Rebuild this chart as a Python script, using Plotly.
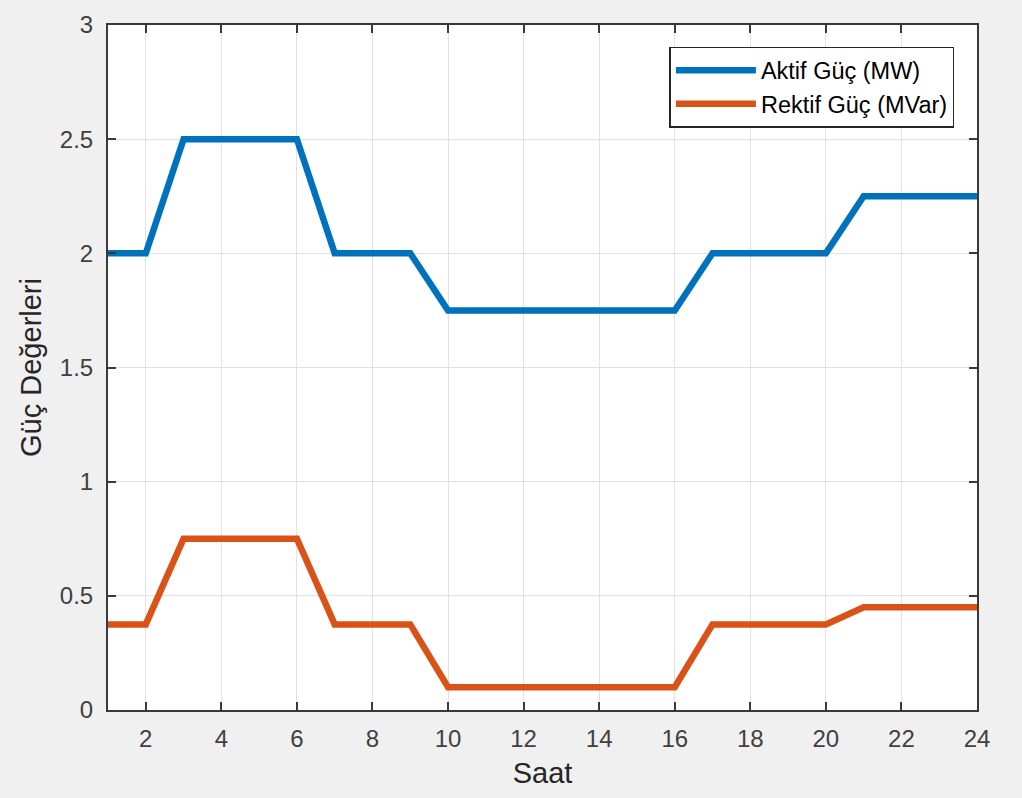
import plotly.graph_objects as go

# Hourly power profile
saat = list(range(1, 25))
aktif_guc = [2, 2, 2.5, 2.5, 2.5, 2.5, 2, 2, 2, 1.75, 1.75, 1.75,
             1.75, 1.75, 1.75, 1.75, 2, 2, 2, 2, 2.25, 2.25, 2.25, 2.25]
rektif_guc = [0.375, 0.375, 0.75, 0.75, 0.75, 0.75, 0.375, 0.375, 0.375, 0.1, 0.1, 0.1,
              0.1, 0.1, 0.1, 0.1, 0.375, 0.375, 0.375, 0.375, 0.45, 0.45, 0.45, 0.45]
x_ticks = list(range(2, 25, 2))
y_ticks = [0, 0.5, 1, 1.5, 2, 2.5, 3]
y_tick_text = ["0", "0.5", "1", "1.5", "2", "2.5", "3"]

FONT = "Liberation Sans, Arial, Helvetica, sans-serif"

fig = go.Figure()
fig.add_trace(go.Scatter(x=saat, y=aktif_guc, mode="lines", name="Aktif Güç (MW)",
                         line=dict(color="#0072BD", width=6.5)))
fig.add_trace(go.Scatter(x=saat, y=rektif_guc, mode="lines", name="Rektif Güç (MVar)",
                         line=dict(color="#D95319", width=6.5)))

axis_common = dict(
    showline=True, linecolor="#3a3a3a", linewidth=2, mirror="ticks",
    ticks="inside", ticklen=8, tickcolor="#3a3a3a", tickwidth=2,
    showgrid=True, gridcolor="#e2e2e2", gridwidth=1.2, zeroline=False,
    tickfont=dict(family=FONT, size=24, color="#404040"),
)

fig.update_layout(
    width=1022, height=798,
    margin=dict(l=108, r=45, t=25, b=88),
    paper_bgcolor="#f0f0f0", plot_bgcolor="#ffffff",
    font=dict(family=FONT, color="#262626"),
    xaxis=dict(range=[1, 24], tickvals=x_ticks, ticklabelstandoff=6,
               title=dict(text="Saat", font=dict(size=29, color="#262626"), standoff=12),
               **axis_common),
    yaxis=dict(range=[0, 3], tickvals=y_ticks, ticktext=y_tick_text, ticklabelstandoff=8,
               title=dict(text="Güç Değerleri", font=dict(size=29, color="#262626"), standoff=10),
               **axis_common),
    legend=dict(x=0.974, y=0.968, xanchor="right", yanchor="top",
                bgcolor="#ffffff", bordercolor="#262626", borderwidth=1.5,
                font=dict(size=23.5, color="#000000"), tracegroupgap=0, itemwidth=80),
    showlegend=True,
)

fig.write_html("out.html")
